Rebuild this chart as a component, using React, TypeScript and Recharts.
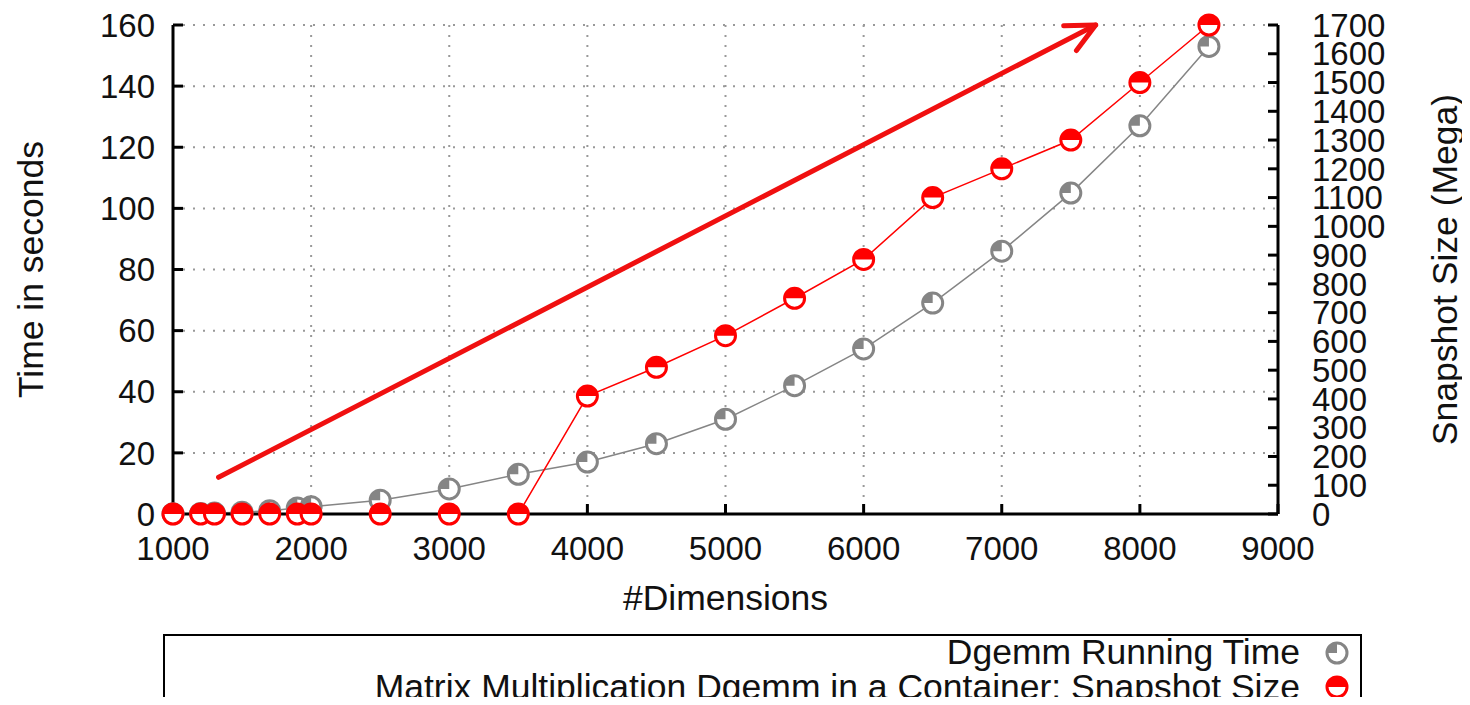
import {
  LineChart,
  Line,
  XAxis,
  YAxis,
  CartesianGrid,
  ReferenceLine,
  Legend,
} from "recharts";

// matrix dimension on the x axis
const dims = [1000, 1200, 1300, 1500, 1700, 1900, 2000, 2500, 3000, 3500, 4000, 4500, 5000, 5500, 6000, 6500, 7000, 7500, 8000, 8500];
// seconds, left axis
const runningTime = [0.1, 0.2, 0.3, 0.6, 1.1, 2.0, 2.4, 4.5, 8.2, 13, 17, 23, 31, 42, 54, 69, 86, 105, 127, 153];
// megabytes, right axis
const snapshotSize = [0, 0, 0, 0, 0, 0, 0, 0, 0, 0, 410, 510, 620, 750, 885, 1100, 1200, 1300, 1500, 1700];

const xTicks = [1000, 2000, 3000, 4000, 5000, 6000, 7000, 8000, 9000];
const leftTicks = [0, 20, 40, 60, 80, 100, 120, 140, 160];
const rightTicks = [0, 100, 200, 300, 400, 500, 600, 700, 800, 900, 1000, 1100, 1200, 1300, 1400, 1500, 1600, 1700];

// hand drawn annotation arrow, in data units (x, seconds)
const arrowFrom = { x: 1330, y: 12 };
const arrowTo = { x: 7680, y: 160 };

const chartData = dims.map((d, i) => ({
  dim: d,
  time: runningTime[i],
  snapshot: snapshotSize[i],
}));

const FONT = "'Liberation Sans', Arial, Helvetica, sans-serif";
const tickStyle = { fill: "#111", fontSize: 33, fontFamily: FONT };
const labelStyle = { fill: "#111", fontSize: 35.5, fontFamily: FONT };
const GREY = "#858585";
const RED = "#ff0000";

const GreyDot = ({ cx, cy, r = 10 }: any) => {
  if (cx == null || cy == null) return null;
  return (
    <g>
      <circle cx={cx} cy={cy} r={r} fill="#fff" stroke={GREY} strokeWidth={3} />
      <path d={`M${cx},${cy} L${cx - r},${cy} A${r},${r} 0 0 1 ${cx},${cy - r} Z`} fill={GREY} />
    </g>
  );
};

const RedDot = ({ cx, cy, r = 10 }: any) => {
  if (cx == null || cy == null) return null;
  return (
    <g>
      <circle cx={cx} cy={cy} r={r} fill="#fff" stroke={RED} strokeWidth={3} />
      <path d={`M${cx - r},${cy} A${r},${r} 0 0 1 ${cx + r},${cy} Z`} fill={RED} />
    </g>
  );
};

const Arrow = (props: any) => {
  const { x1, y1, x2, y2 } = props;
  const a = Math.atan2(y1 - y2, x1 - x2);
  const len = 32;
  const spread = 0.45;
  const h1 = [x2 + len * Math.cos(a + spread), y2 + len * Math.sin(a + spread)];
  const h2 = [x2 + len * Math.cos(a - spread), y2 + len * Math.sin(a - spread)];
  return (
    <g>
      <line x1={x1} y1={y1} x2={x2} y2={y2} stroke="#f01010" strokeWidth={5} strokeLinecap="round" />
      <polyline
        points={`${h1[0]},${h1[1]} ${x2},${y2} ${h2[0]},${h2[1]}`}
        fill="none"
        stroke="#f01010"
        strokeWidth={5}
        strokeLinecap="round"
        strokeLinejoin="round"
      />
    </g>
  );
};

const rowStyle = {
  display: "flex",
  justifyContent: "flex-end",
  alignItems: "center",
  whiteSpace: "nowrap" as const,
};

const LegendBox = () => (
  <div
    style={{
      boxSizing: "border-box",
      width: "100%",
      height: 71,
      border: "2px solid #000",
      borderBottom: "none",
      fontFamily: FONT,
      fontSize: 35.5,
      color: "#111",
      overflow: "hidden",
    }}
  >
    <div style={{ ...rowStyle, height: 33, lineHeight: "33px" }}>
      <span>Dgemm Running Time</span>
      <svg width={46} height={30} style={{ marginLeft: 14 }}>
        <GreyDot cx={23} cy={15} r={10} />
      </svg>
    </div>
    <div style={{ ...rowStyle, height: 36, lineHeight: "36px" }}>
      <span>Matrix Multiplication Dgemm in a Container: Snapshot Size</span>
      <svg width={46} height={30} style={{ marginLeft: 14 }}>
        <RedDot cx={23} cy={15} r={10} />
      </svg>
    </div>
  </div>
);

export default function App() {
  return (
    <div style={{ margin: -8, width: 1470, height: 705, overflow: "hidden", background: "#fff" }}>
      <LineChart
        width={1470}
        height={705}
        data={chartData}
        margin={{ top: 25, right: 0, bottom: 91, left: 0 }}
      >
        <CartesianGrid
          xAxisId="bottom"
          yAxisId="left"
          stroke="#999"
          strokeWidth={2}
          strokeDasharray="2 8"
          horizontalValues={leftTicks}
          verticalValues={xTicks}
        />
        <XAxis
          xAxisId="bottom"
          dataKey="dim"
          type="number"
          domain={[1000, 9000]}
          ticks={xTicks}
          interval={0}
          height={100}
          tick={tickStyle}
          tickSize={-10}
          tickMargin={33}
          tickLine={{ stroke: "#000", strokeWidth: 3 }}
          axisLine={{ stroke: "#000", strokeWidth: 3 }}
          label={{
            content: ({ viewBox }: any) => (
              <text
                x={viewBox.x + viewBox.width / 2}
                y={viewBox.y + 84}
                textAnchor="middle"
                dominantBaseline="central"
                style={labelStyle}
              >
                #Dimensions
              </text>
            ),
          }}
        />
        <XAxis
          xAxisId="top"
          orientation="top"
          dataKey="dim"
          type="number"
          domain={[1000, 9000]}
          ticks={xTicks}
          interval={0}
          height={0}
          tick={false}
          tickSize={-10}
          tickLine={{ stroke: "#000", strokeWidth: 3 }}
          axisLine={{ stroke: "#000", strokeWidth: 3 }}
        />
        <YAxis
          yAxisId="left"
          domain={[0, 160]}
          ticks={leftTicks}
          interval={0}
          width={173}
          tick={tickStyle}
          tickSize={-10}
          tickMargin={28}
          tickLine={{ stroke: "#000", strokeWidth: 3 }}
          axisLine={{ stroke: "#000", strokeWidth: 3 }}
          label={{
            content: ({ viewBox }: any) => {
              const x = viewBox.x + 31;
              const y = viewBox.y + viewBox.height / 2;
              return (
                <text
                  x={x}
                  y={y}
                  transform={`rotate(-90, ${x}, ${y})`}
                  textAnchor="middle"
                  dominantBaseline="central"
                  style={labelStyle}
                >
                  Time in seconds
                </text>
              );
            },
          }}
        />
        <YAxis
          yAxisId="leftMirror"
          orientation="right"
          domain={[0, 160]}
          ticks={leftTicks}
          interval={0}
          width={0}
          tick={false}
          tickSize={-10}
          tickLine={{ stroke: "#000", strokeWidth: 3 }}
          axisLine={false}
        />
        <YAxis
          yAxisId="right"
          orientation="right"
          domain={[0, 1700]}
          ticks={rightTicks}
          interval={0}
          width={192}
          tick={{ ...tickStyle, textAnchor: "start" }}
          tickSize={-10}
          tickMargin={44}
          tickLine={{ stroke: "#000", strokeWidth: 3 }}
          axisLine={{ stroke: "#000", strokeWidth: 3 }}
          label={{
            content: ({ viewBox }: any) => {
              const x = viewBox.x + 167;
              const y = viewBox.y + viewBox.height / 2;
              return (
                <text
                  x={x}
                  y={y}
                  transform={`rotate(-90, ${x}, ${y})`}
                  textAnchor="middle"
                  dominantBaseline="central"
                  style={labelStyle}
                >
                  Snapshot Size (Mega)
                </text>
              );
            },
          }}
        />
        <Line
          xAxisId="bottom"
          yAxisId="left"
          dataKey="time"
          name="Dgemm Running Time"
          stroke={GREY}
          strokeWidth={1.5}
          dot={(p: any) => <GreyDot key={`g${p.index}`} cx={p.cx} cy={p.cy} />}
          isAnimationActive={false}
        />
        <Line
          xAxisId="bottom"
          yAxisId="right"
          dataKey="snapshot"
          name="Matrix Multiplication Dgemm in a Container: Snapshot Size"
          stroke={RED}
          strokeWidth={1.5}
          dot={(p: any) => <RedDot key={`r${p.index}`} cx={p.cx} cy={p.cy} />}
          isAnimationActive={false}
        />
        <ReferenceLine
          xAxisId="bottom"
          yAxisId="left"
          segment={[arrowFrom, arrowTo]}
          ifOverflow="visible"
          shape={Arrow}
        />
        <Legend
          layout="horizontal"
          verticalAlign="middle"
          align="center"
          wrapperStyle={{ left: 163, top: 634, width: 1199, height: 71 }}
          content={() => <LegendBox />}
        />
      </LineChart>
    </div>
  );
}
